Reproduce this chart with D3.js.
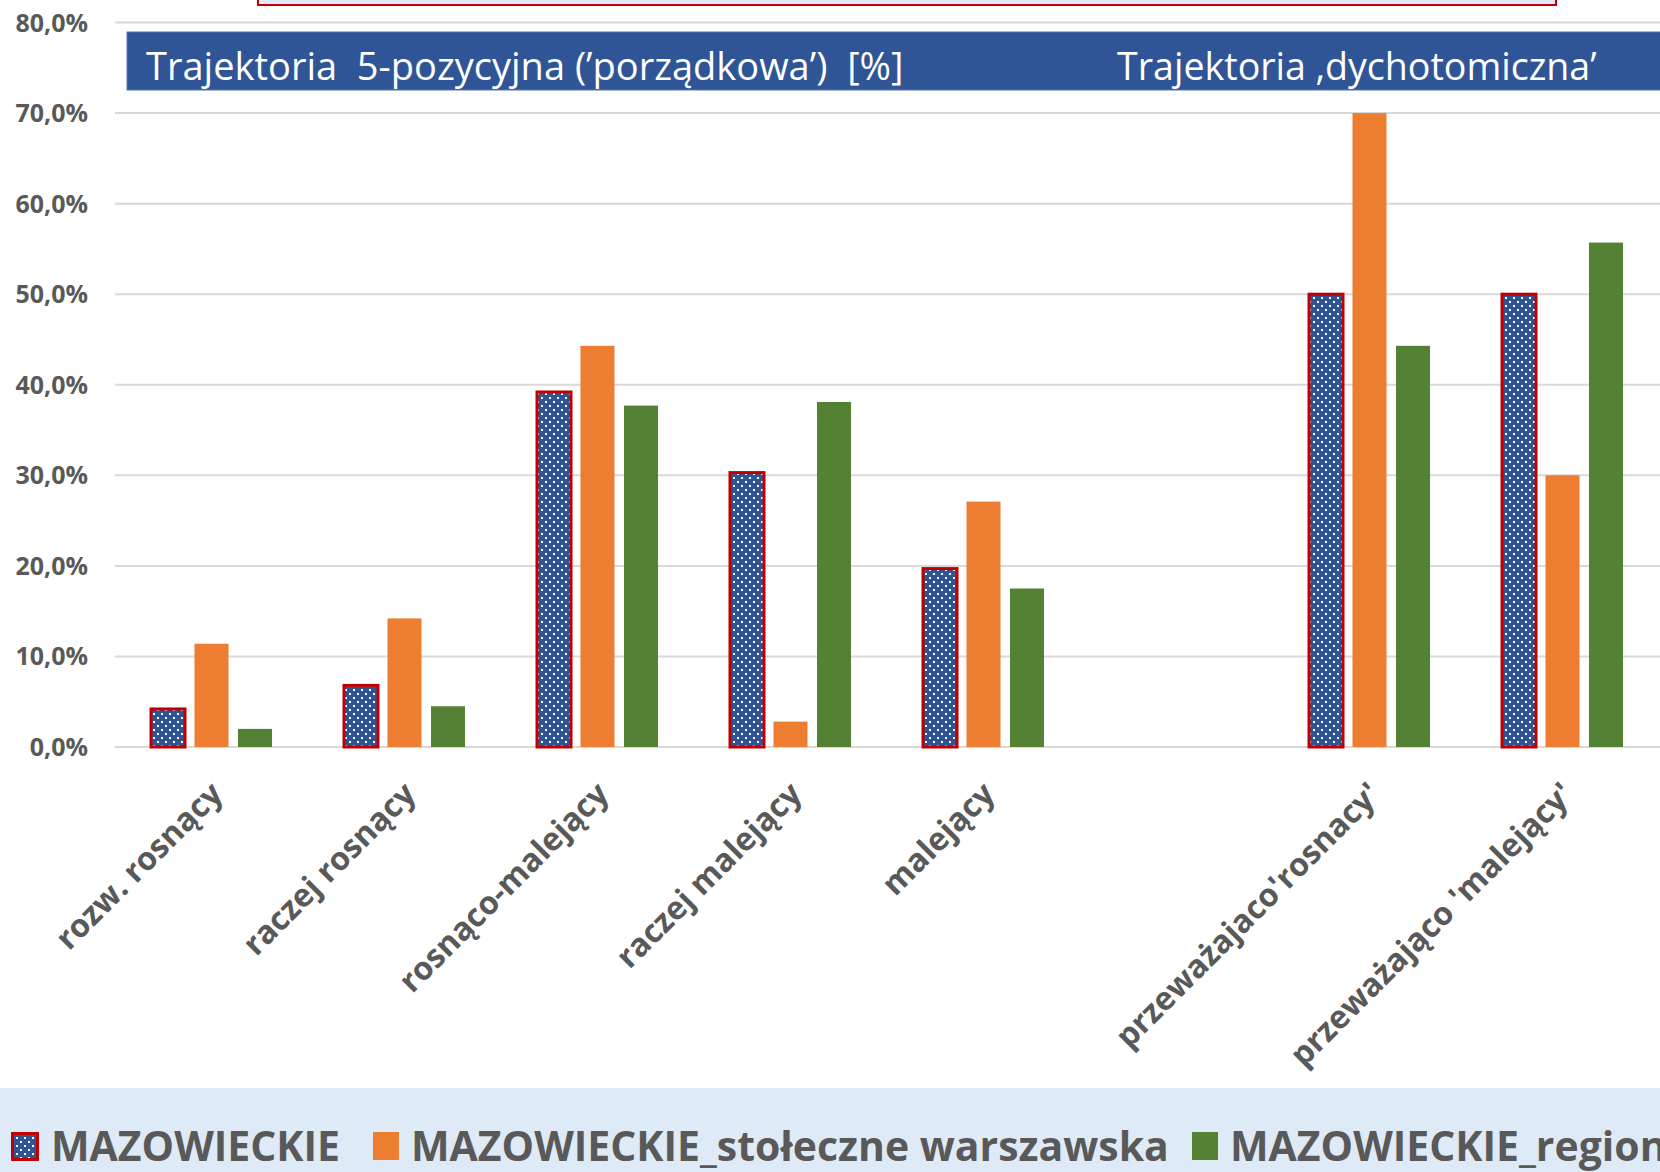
<!DOCTYPE html>
<html>
<head>
<meta charset="utf-8">
<script src="https://cdn.jsdelivr.net/npm/d3@7.8.5/dist/d3.min.js"></script>
<style>
  html, body { margin: 0; padding: 0; background: #fff; }
  svg { display: block; }
</style>
</head>
<body>
<div id="chart"></div>
<script>
// categories ('' is the empty slot between the two groups)
const categories = ['rozw. rosnący', 'raczej rosnący', 'rosnąco-malejący', 'raczej malejący', 'malejący', '',
  "przeważajaco'rosnacy'", "przeważająco 'malejący'"];
const seriesNames = ['MAZOWIECKIE', 'MAZOWIECKIE_stołeczne warszawska', 'MAZOWIECKIE_regionalny mazowiecki'];
const mazowieckie = [4.2, 6.8, 39.2, 30.3, 19.7, null, 50.0, 50.0];
const stoleczne = [11.4, 14.2, 44.3, 2.8, 27.1, null, 70.0, 30.0];
const regionalny = [2.0, 4.5, 37.7, 38.1, 17.5, null, 44.3, 55.7];
const yTicks = [0, 10, 20, 30, 40, 50, 60, 70, 80];
const bannerLabels = ['Trajektoria  5-pozycyjna (’porządkowa’)  [%]', 'Trajektoria ‚dychotomiczna’'];

const W = 1660, H = 1172;
const grey = '#595959';
const colors = { blue: '#2F5597', orange: '#ED7D31', green: '#548235', red: '#C00000' };

const svg = d3.select('#chart').append('svg')
  .attr('width', W)
  .attr('height', H);

// dotted fill for the first series
const pat = svg.append('defs').append('pattern')
  .attr('id', 'dots')
  .attr('patternUnits', 'userSpaceOnUse')
  .attr('width', 8)
  .attr('height', 8);
pat.append('rect').attr('width', 8).attr('height', 8).attr('fill', colors.blue);
pat.append('rect').attr('x', 1).attr('y', 1).attr('width', 2).attr('height', 2).attr('fill', '#fff');
pat.append('rect').attr('x', 5).attr('y', 5).attr('width', 2).attr('height', 2).attr('fill', '#fff');

const x0 = d3.scaleBand()
  .domain(categories)
  .range([115, 1659]);

const half = 60.5;
const x1 = d3.scaleBand()
  .domain(seriesNames)
  .range([x0.bandwidth() / 2 - half, x0.bandwidth() / 2 + half])
  .paddingInner(0.218);

const y = d3.scaleLinear()
  .domain([0, 80])
  .range([747, 22.5]);

// gridlines + y labels
const grid = svg.append('g');
grid.selectAll('line')
  .data(yTicks)
  .enter()
  .append('line')
  .attr('x1', 115)
  .attr('x2', W)
  .attr('y1', d => y(d))
  .attr('y2', d => y(d))
  .attr('stroke', '#D9D9D9')
  .attr('stroke-width', 2);

grid.selectAll('text')
  .data(yTicks)
  .enter()
  .append('text')
  .attr('x', 88)
  .attr('y', d => y(d))
  .attr('dy', '0.36em')
  .attr('text-anchor', 'end')
  .attr('font-family', '"Open Sans", sans-serif')
  .attr('font-weight', 700)
  .attr('font-size', 25)
  .attr('fill', grey)
  .text(d => d.toFixed(1).replace('.', ',') + '%');

// cut-off box at the very top
svg.append('rect')
  .attr('x', 258)
  .attr('y', -10)
  .attr('width', 1298)
  .attr('height', 15)
  .attr('fill', '#DEEBF7')
  .attr('stroke', colors.red)
  .attr('stroke-width', 2);

// blue banner
svg.append('rect')
  .attr('x', 127)
  .attr('y', 32)
  .attr('width', W - 127 + 5)
  .attr('height', 58)
  .attr('fill', colors.blue)
  .attr('stroke', '#4F78BE')
  .attr('stroke-width', 1);

svg.selectAll('.banner-label')
  .data(bannerLabels)
  .enter()
  .append('text')
  .attr('class', 'banner-label')
  .attr('x', (d, i) => i === 0 ? 146 : 1117)
  .attr('y', 80)
  .attr('font-family', '"Open Sans", sans-serif')
  .attr('font-size', (d, i) => i === 0 ? 38 : 37.6)
  .attr('fill', '#fff')
  .style('white-space', 'pre')
  .text(d => d);

// bars
const series = [
  { name: seriesNames[0], values: mazowieckie, fill: 'url(#dots)', stroke: colors.red },
  { name: seriesNames[1], values: stoleczne, fill: colors.orange, stroke: null },
  { name: seriesNames[2], values: regionalny, fill: colors.green, stroke: null }
];

const barData = [];
series.forEach(s => {
  s.values.forEach((v, i) => {
    if (v != null) barData.push({ cat: categories[i], value: v, s });
  });
});

svg.append('g')
  .selectAll('rect')
  .data(barData)
  .enter()
  .append('rect')
  .attr('x', d => x0(d.cat) + x1(d.s.name))
  .attr('y', d => y(d.value))
  .attr('width', x1.bandwidth())
  .attr('height', d => y(0) - y(d.value))
  .attr('fill', d => d.s.fill)
  .attr('stroke', d => d.s.stroke || 'none')
  .attr('stroke-width', 3);

// category labels, rotated
svg.append('g')
  .selectAll('text')
  .data(categories.filter(c => c !== ''))
  .enter()
  .append('text')
  .attr('transform', d => `translate(${x0(d) + x0.bandwidth() / 2 + 13}, 796) rotate(-45)`)
  .attr('text-anchor', 'end')
  .attr('font-family', '"Open Sans", sans-serif')
  .attr('font-weight', 700)
  .attr('font-size', 32)
  .attr('fill', grey)
  .text(d => d);

// legend
svg.append('rect')
  .attr('x', 0)
  .attr('y', 1088)
  .attr('width', W)
  .attr('height', H - 1088)
  .attr('fill', '#DEEAF6');

const legendX = [11, 373, 1192];
const legend = svg.append('g')
  .selectAll('g')
  .data(series)
  .enter()
  .append('g')
  .attr('transform', (d, i) => `translate(${legendX[i]}, 1132)`);

legend.append('rect')
  .attr('x', (d, i) => i === 0 ? 1.5 : 0)
  .attr('y', (d, i) => i === 0 ? 1.5 : 0)
  .attr('width', (d, i) => i === 0 ? 25 : 26)
  .attr('height', (d, i) => i === 0 ? 26 : 28)
  .attr('fill', d => d.fill)
  .attr('stroke', d => d.stroke || 'none')
  .attr('stroke-width', 3);

legend.append('text')
  .attr('x', (d, i) => i === 0 ? 40 : 38)
  .attr('y', 29)
  .attr('font-family', '"Open Sans", sans-serif')
  .attr('font-weight', 700)
  .attr('font-size', 42)
  .attr('fill', grey)
  .text(d => d.name)
  .each(function () {
    const w = this.getComputedTextLength();
    d3.select(this)
      .attr('textLength', w * 0.975)
      .attr('lengthAdjust', 'spacingAndGlyphs');
  });
</script>
</body>
</html>
